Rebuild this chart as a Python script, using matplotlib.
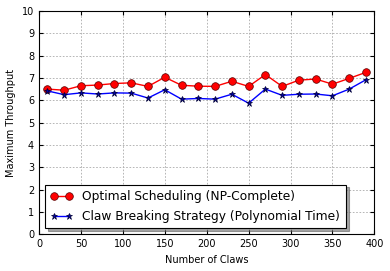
import matplotlib
matplotlib.use("Agg")
import matplotlib.pyplot as plt

claws = [10, 30, 50, 70, 90, 110, 130, 150, 170, 190,
         210, 230, 250, 270, 290, 310, 330, 350, 370, 390]
optimal = [6.5, 6.45, 6.65, 6.68, 6.75, 6.78, 6.62, 7.03, 6.67, 6.63,
           6.62, 6.85, 6.62, 7.15, 6.62, 6.9, 6.95, 6.72, 6.98, 7.25]
claw_breaking = [6.42, 6.25, 6.33, 6.28, 6.33, 6.32, 6.1, 6.47, 6.05, 6.08,
                 6.05, 6.27, 5.87, 6.5, 6.22, 6.27, 6.28, 6.2, 6.5, 6.92]

fig, ax = plt.subplots(figsize=(3.9, 2.71), dpi=100)
ax.plot(claws, optimal, "r-o", markersize=5.5, markeredgecolor="#550000",
        markeredgewidth=0.5, linewidth=1, label="Optimal Scheduling (NP-Complete)")
ax.plot(claws, claw_breaking, "b-*", markersize=5, markeredgecolor="#000033",
        markeredgewidth=0.5, markerfacecolor="#0000aa", linewidth=1,
        label="Claw Breaking Strategy (Polynomial Time)")

ax.set_xlim(0, 400)
ax.set_ylim(0, 10)
ax.set_yticks(range(0, 11))
ax.set_xticks(range(0, 401, 50))
ax.tick_params(labelsize=7, direction="in", length=3, top=True, right=True)
ax.grid(True, linestyle="--", dashes=(2, 2), color="#aaaaaa", linewidth=0.6)
ax.set_xlabel("Number of Claws", fontsize=7)
ax.set_ylabel("Maximum Throughput", fontsize=7)
leg = ax.legend(loc="lower left", fontsize=8.8, shadow=True, fancybox=False,
                framealpha=1, edgecolor="black", borderaxespad=0.5,
                numpoints=2, handlelength=1.8, borderpad=0.45, labelspacing=0.55)
leg.get_frame().set_linewidth(0.8)

plt.subplots_adjust(left=0.10, right=0.96, bottom=0.135, top=0.96)
plt.savefig("out.png")
